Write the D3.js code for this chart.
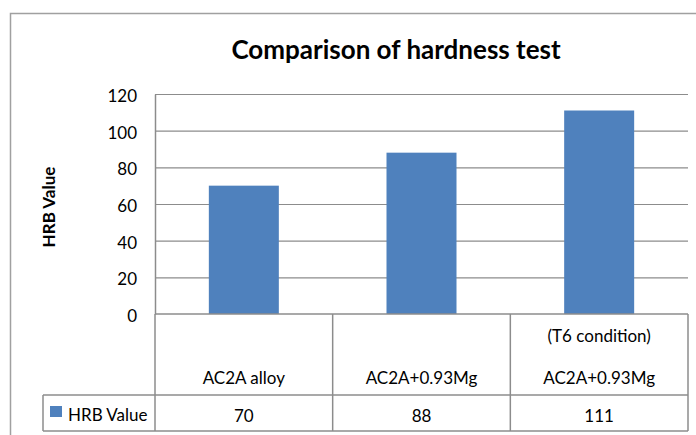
<!DOCTYPE html>
<html>
<head>
<meta charset="utf-8">
<script src="https://cdn.jsdelivr.net/npm/d3@7"></script>
<style>
  body { margin: 0; background: #fff; }
  svg { display: block; font-family: Lato, "Open Sans", sans-serif; }
</style>
</head>
<body>
<svg width="696" height="435"></svg>
<script>
// data
const categories = [["AC2A alloy"], ["AC2A+0.93Mg"], ["(T6 condition)", "AC2A+0.93Mg"]];
const values = [70, 88, 111];
const tickValues = [0, 20, 40, 60, 80, 100, 120];
const seriesName = "HRB Value";

const svg = d3.select("svg");
const grey = "#8c8c8c";

// outer chart border (runs off the right and bottom edges)
svg.append("rect")
   .attr("x", 10.5).attr("y", 13.5)
   .attr("width", 700).attr("height", 440)
   .attr("fill", "none").attr("stroke", "#a0a0a0").attr("stroke-width", 1.5);

const plotL = 155, plotR = 688, plotT = 94, plotB = 314;

const x = d3.scaleBand().domain(d3.range(values.length)).range([plotL, plotR]).paddingInner(0).paddingOuter(0);
const y = d3.scaleLinear().domain([0, 120]).range([plotB, plotT]);

// gridlines
svg.append("g")
   .selectAll("line")
   .data(tickValues.slice(1))
   .enter().append("line")
   .attr("x1", plotL).attr("x2", plotR)
   .attr("y1", d => y(d) + 0.5).attr("y2", d => y(d) + 0.5)
   .attr("stroke", grey).attr("stroke-width", 1.2);

// y axis
const yAxis = svg.append("g")
   .attr("transform", `translate(${plotL},0)`)
   .call(d3.axisLeft(y).tickValues(tickValues).tickSize(0).tickPadding(18));
yAxis.select(".domain").attr("stroke", grey).attr("stroke-width", 1.5);
yAxis.selectAll("text").attr("font-size", 17).attr("fill", "#000").attr("dy", "0.45em")
     .style("font-family", "Lato, sans-serif");

// bars
const barW = 70;
svg.append("g")
   .selectAll("rect")
   .data(values)
   .enter().append("rect")
   .attr("x", (d, i) => x(i) + x.bandwidth() / 2 - barW / 2)
   .attr("width", barW)
   .attr("y", d => y(d))
   .attr("height", d => y(0) - y(d))
   .attr("fill", "#4f81bd");

// data table
const rowTop = plotB, rowMid = 395, rowBot = 431, tableLeft = 43;
const lines = svg.append("g").attr("stroke", grey).attr("stroke-width", 1.5);
lines.append("line").attr("x1", plotL).attr("x2", plotR).attr("y1", rowTop).attr("y2", rowTop);
lines.append("line").attr("x1", tableLeft).attr("x2", plotR).attr("y1", rowMid).attr("y2", rowMid);
lines.append("line").attr("x1", tableLeft).attr("x2", plotR).attr("y1", rowBot).attr("y2", rowBot);
lines.append("line").attr("x1", tableLeft).attr("x2", tableLeft).attr("y1", rowMid).attr("y2", rowBot);
const edges = d3.range(values.length + 1).map(i => i < values.length ? x(i) : plotR);
lines.selectAll(".v").data(edges).enter().append("line")
     .attr("x1", d => d).attr("x2", d => d)
     .attr("y1", rowTop).attr("y2", rowBot);

// category labels (bottom-aligned)
const catG = svg.append("g").attr("font-size", 17).attr("text-anchor", "middle");
categories.forEach((lbls, i) => {
  lbls.slice().reverse().forEach((t, j) => {
    catG.append("text")
        .attr("x", x(i) + x.bandwidth() / 2)
        .attr("y", 384 - j * 42)
        .text(t);
  });
});

// values row
svg.append("g").attr("font-size", 17).attr("text-anchor", "middle")
   .selectAll("text").data(values).enter().append("text")
   .attr("x", (d, i) => x(i) + x.bandwidth() / 2)
   .attr("y", 422)
   .text(d => d);

// legend key in table
svg.append("rect").attr("x", 50).attr("y", 406).attr("width", 12).attr("height", 11).attr("fill", "#4f81bd");
svg.append("text").attr("x", 68).attr("y", 421).attr("font-size", 17).text(seriesName);

// y axis title
svg.append("text")
   .attr("transform", "translate(55,207) rotate(-90)")
   .attr("text-anchor", "middle")
   .attr("font-size", 17).attr("font-weight", "bold")
   .text(seriesName);

// chart title
svg.append("text")
   .attr("x", 396).attr("y", 59)
   .attr("text-anchor", "middle")
   .attr("font-size", 26).attr("font-weight", "bold")
   .text("Comparison of hardness test");
</script>
</body>
</html>
